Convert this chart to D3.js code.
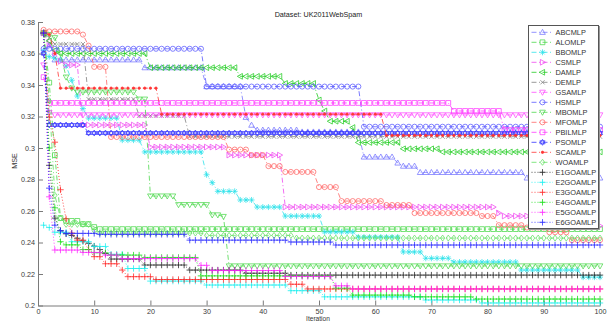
<!DOCTYPE html>
<html>
<head>
<meta charset="utf-8">
<script src="https://cdn.jsdelivr.net/npm/d3@7"></script>
<style>
  html, body { margin: 0; padding: 0; background: #fff; }
  svg { display: block; font-family: "Liberation Sans", Arial, sans-serif; }
</style>
</head>
<body>
<svg id="chart" width="607" height="322"></svg>
<script>
// ---- data -------------------------------------------------------------
const iterations = d3.range(1, 101);
const xTicks = [0, 10, 20, 30, 40, 50, 60, 70, 80, 90, 100];
const yTicks = [0.2, 0.22, 0.24, 0.26, 0.28, 0.3, 0.32, 0.34, 0.36, 0.38];
const yTickLabels = ["0.2", "0.22", "0.24", "0.26", "0.28", "0.3", "0.32", "0.34", "0.36", "0.38"];
const seriesNames = ["ABCMLP", "ALOMLP", "BBOMLP", "CSMLP", "DAMLP", "DEMLP", "GSAMLP", "HSMLP",
  "MBOMLP", "MFOMLP", "PBILMLP", "PSOMLP", "SCAMLP", "WOAMLP",
  "E1GOAMLP", "E2GOAMLP", "E3GOAMLP", "E4GOAMLP", "E5GOAMLP", "E6GOAMLP"];

// MSE per iteration (1..100)
const abcmlp = [
  .373,.365,.356,.356,.356,.356,.356,.356,.356,.356,
  .356,.356,.356,.356,.356,.356,.356,.356,.351,.351,
  .351,.351,.351,.351,.351,.351,.351,.351,.351,.339,
  .339,.339,.339,.339,.339,.339,.3195,.3145,.3114,.3114,
  .3114,.3114,.3114,.3114,.3114,.3114,.3102,.3102,.3102,.3102,
  .3102,.3102,.3102,.3102,.3102,.3102,.3102,.2943,.2943,.2943,
  .2943,.2943,.2943,.2905,.2885,.2885,.2885,.2845,.2845,.2845,
  .2845,.2845,.2845,.2845,.2845,.2845,.2845,.2845,.2845,.2845,
  .2845,.2845,.2845,.2845,.2845,.2845,.281,.281,.281,.281,
  .281,.281,.281,.281,.281,.281,.281,.281,.281,.281];
const alomlp = [
  .373,.3415,.2955,.2555,.2537,.2537,.2537,.2517,.2517,.2498,
  .2485,.2485,.2485,.2485,.2485,.2485,.2485,.2485,.2485,.2485,
  .2485,.2485,.2485,.2485,.2485,.2485,.2485,.2485,.2485,.2485,
  .2485,.2485,.2485,.2485,.2485,.2485,.2485,.2485,.2485,.2485,
  .2485,.2485,.2485,.2485,.2485,.2485,.2485,.2485,.2485,.2485,
  .2485,.2485,.2485,.2485,.2485,.2485,.2485,.2485,.2485,.2485,
  .2485,.2485,.2485,.2485,.2485,.2485,.2485,.2485,.2485,.2485,
  .2485,.2485,.2485,.2485,.2485,.2485,.2485,.2485,.2485,.2485,
  .2485,.2485,.2485,.2485,.2485,.2485,.2485,.2485,.2485,.2485,
  .2485,.2485,.2485,.2485,.2485,.2485,.2485,.2485,.2485,.2485];
const bbomlp = [
  .362,.358,.357,.356,.352,.343,.333,.325,.319,.319,
  .319,.319,.319,.319,.305,.305,.305,.305,.2975,.2975,
  .2975,.2975,.2975,.2975,.2975,.2975,.2975,.2975,.2975,.283,
  .278,.2725,.2725,.2725,.2725,.267,.267,.267,.2625,.2625,
  .2625,.2625,.2625,.2568,.2568,.2568,.2568,.2568,.2568,.2568,
  .2467,.2467,.2467,.2467,.2467,.2467,.2435,.2435,.2435,.2435,
  .2435,.2435,.2435,.2435,.234,.234,.234,.234,.230,.230,
  .230,.230,.230,.2276,.2276,.2276,.2276,.2276,.2276,.2276,
  .2276,.2276,.2276,.2276,.2276,.2225,.2225,.2225,.2225,.2225,
  .2225,.2225,.2225,.2225,.2225,.2225,.218,.218,.218,.218];
const csmlp = [
  .373,.366,.36,.355,.3527,.3527,.3527,.3146,.3146,.3146,
  .3146,.3146,.3146,.3146,.3146,.3146,.3146,.3146,.3146,.3006,
  .3006,.3006,.3006,.3006,.3006,.3006,.3006,.3006,.3006,.3006,
  .3006,.3006,.3006,.2955,.2955,.2955,.2955,.2955,.2955,.2955,
  .2955,.2955,.2955,.2625,.2625,.2625,.2625,.2625,.2625,.2625,
  .2625,.2625,.2625,.2625,.2625,.2625,.2625,.2625,.2625,.2625,
  .2625,.2625,.2625,.2625,.2625,.2625,.2625,.2625,.2625,.2625,
  .2625,.2625,.2625,.2625,.2625,.2625,.2625,.2625,.2625,.2625,
  .2625,.2587,.2568,.2568,.2568,.2568,.2568,.2568,.2568,.2568,
  .2568,.2568,.2505,.2505,.2505,.2505,.2505,.2505,.2505,.2505];
const damlp = [
  .373,.368,.362,.36,.36,.36,.36,.36,.36,.36,
  .36,.36,.36,.36,.36,.36,.36,.36,.36,.351,
  .351,.351,.351,.351,.351,.351,.351,.351,.351,.351,
  .351,.351,.351,.351,.351,.3455,.3455,.3455,.3455,.3455,
  .3455,.3455,.3455,.341,.341,.341,.341,.341,.341,.3305,
  .3235,.317,.317,.317,.317,.313,.3035,.3035,.3035,.3035,
  .3035,.3035,.3035,.3035,.2995,.2995,.2995,.2995,.2995,.2995,
  .2995,.2975,.2975,.2975,.2975,.2975,.2975,.2975,.2975,.2975,
  .2975,.2975,.2975,.2975,.2975,.2975,.2975,.2975,.2975,.2975,
  .2975,.2975,.2975,.2975,.2975,.2975,.2975,.2975,.2975,.2975];
const demlp = [
  .373,.37,.366,.366,.366,.366,.366,.366,.331,.331,
  .331,.331,.331,.331,.331,.331,.331,.3205,.3205,.3205,
  .3205,.3205,.3205,.3205,.3205,.3205,.3072,.3072,.3072,.3072,
  .3072,.3072,.3072,.3072,.3072,.3072,.3072,.3072,.3072,.3072,
  .3072,.3072,.3072,.3072,.3072,.3072,.3072,.3072,.3072,.3072,
  .3072,.3072,.3072,.3072,.3072,.3072,.3072,.3072,.3072,.3072,
  .3072,.3072,.3072,.3072,.3072,.3072,.3072,.3072,.3072,.3072,
  .3072,.3072,.3072,.3072,.3072,.3072,.3072,.3072,.3072,.3072,
  .3072,.3072,.3072,.3072,.3072,.3072,.3072,.3072,.3072,.3072,
  .3072,.3072,.3072,.3072,.3072,.3072,.3072,.3072,.3072,.3072];
const gsamlp = [
  .3527,.3225,.321,.321,.321,.321,.321,.321,.321,.321,
  .321,.321,.321,.321,.321,.321,.321,.321,.321,.321,
  .321,.321,.321,.321,.321,.321,.321,.321,.321,.321,
  .321,.321,.321,.321,.321,.321,.321,.321,.321,.321,
  .321,.321,.321,.321,.321,.321,.321,.321,.321,.321,
  .321,.321,.321,.321,.321,.321,.321,.321,.321,.321,
  .321,.321,.321,.321,.321,.321,.321,.321,.321,.321,
  .321,.321,.321,.321,.321,.321,.321,.321,.321,.321,
  .321,.321,.321,.321,.321,.321,.321,.321,.321,.321,
  .321,.321,.321,.321,.321,.321,.321,.321,.321,.321];
const hsmlp = [
  .363,.363,.363,.363,.363,.363,.363,.363,.363,.363,
  .363,.363,.363,.363,.363,.363,.363,.363,.363,.363,
  .363,.363,.363,.363,.363,.363,.363,.363,.363,.339,
  .339,.339,.339,.339,.339,.339,.339,.339,.339,.339,
  .339,.339,.339,.339,.339,.339,.339,.339,.339,.339,
  .339,.339,.339,.339,.339,.339,.339,.3135,.3135,.3135,
  .3135,.3135,.3135,.3135,.3135,.3135,.3135,.3135,.3135,.3135,
  .3135,.3135,.3135,.3135,.3135,.3135,.3135,.3135,.3135,.3135,
  .3135,.3135,.3135,.3135,.3135,.3135,.3135,.3135,.3135,.3135,
  .3135,.3135,.3135,.3135,.3135,.3135,.3135,.3135,.3135,.3135];
const mbomlp = [
  .373,.372,.37,.36,.345,.338,.3355,.3355,.3355,.3355,
  .3355,.3355,.3355,.3355,.3355,.3355,.3355,.331,.331,.2695,
  .2695,.2695,.2695,.2695,.264,.264,.264,.264,.264,.264,
  .2575,.2575,.2565,.2251,.2251,.2251,.2251,.2251,.2251,.2251,
  .2251,.2251,.2251,.2251,.2251,.2251,.2251,.2251,.2251,.2251,
  .2251,.2251,.2251,.2251,.2251,.2251,.2251,.2251,.2251,.2251,
  .2251,.2251,.2251,.2251,.2251,.2251,.2251,.2251,.2251,.2251,
  .2251,.2251,.2251,.2251,.2251,.2251,.2251,.2251,.2251,.2251,
  .2251,.2251,.2251,.2251,.2251,.2251,.2251,.2251,.2251,.2251,
  .2251,.2251,.2251,.2251,.2251,.2251,.2251,.2251,.2251,.2251];
const mfomlp = [
  .375,.374,.374,.374,.374,.374,.374,.372,.365,.3515,
  .3515,.3515,.307,.307,.307,.307,.307,.307,.307,.307,
  .307,.307,.307,.307,.307,.307,.307,.307,.307,.307,
  .307,.307,.307,.299,.299,.299,.299,.2955,.2955,.2955,
  .2885,.2885,.2885,.2848,.2848,.2848,.2848,.2848,.2848,.2752,
  .2752,.2752,.2752,.2663,.2663,.2663,.2663,.2663,.2663,.2663,
  .2663,.2638,.2638,.2638,.2638,.2638,.2587,.2587,.2587,.2587,
  .2587,.2587,.2587,.2587,.2587,.2587,.2587,.2587,.2568,.2568,
  .2568,.251,.251,.251,.251,.251,.2495,.2495,.2495,.2495,
  .2465,.2465,.2465,.2465,.2415,.2415,.2415,.2415,.2415,.2415];
const pbilmlp = [
  .345,.3286,.3286,.3286,.3286,.3286,.3286,.3286,.3286,.3286,
  .3286,.3286,.3286,.3286,.3286,.3286,.3286,.3286,.3286,.3286,
  .3286,.3286,.3286,.3286,.3286,.3286,.3286,.3286,.3286,.3286,
  .3286,.3286,.3286,.3286,.3286,.3286,.3286,.3286,.3286,.3286,
  .3286,.3286,.3286,.3286,.3286,.3286,.3286,.3286,.3286,.3286,
  .3286,.3286,.3286,.3286,.3286,.3286,.3286,.3286,.3286,.3286,
  .3286,.3286,.3286,.3286,.3286,.3286,.3286,.3286,.3286,.3286,
  .3286,.3286,.3286,.3235,.3235,.3235,.3235,.3235,.3235,.3235,
  .3235,.3235,.3114,.3114,.3114,.3114,.3114,.3114,.3114,.3114,
  .3114,.3114,.3114,.3114,.3114,.3114,.3114,.3114,.3114,.3114];
const psomlp = [
  .36,.3146,.3146,.3146,.3146,.3146,.3146,.3146,.3095,.3095,
  .3095,.3095,.3095,.3095,.3095,.3095,.3095,.3095,.3095,.3095,
  .3095,.3095,.3095,.3095,.3095,.3095,.3095,.3095,.3095,.3095,
  .3095,.3095,.3095,.3095,.3095,.3095,.3095,.3095,.3095,.3095,
  .3095,.3095,.3095,.3095,.3095,.3095,.3095,.3095,.3095,.3095,
  .3095,.3095,.3095,.3095,.3095,.3095,.3095,.3095,.3095,.3095,
  .3095,.3095,.3095,.3095,.3095,.3095,.3095,.3095,.3095,.3095,
  .3095,.3095,.3095,.3095,.3095,.3095,.3095,.3095,.3095,.3095,
  .3095,.3095,.3095,.3095,.3095,.3095,.3095,.3095,.3095,.3095,
  .3095,.3095,.3095,.3095,.3095,.3095,.3095,.3095,.3095,.3095];
const scamlp = [
  .373,.372,.36,.338,.338,.338,.338,.338,.338,.338,
  .338,.338,.338,.338,.338,.338,.338,.338,.338,.338,
  .338,.3215,.3215,.3215,.3215,.3215,.3215,.3215,.3215,.3215,
  .3215,.3215,.3215,.3215,.3215,.3215,.3215,.3215,.3215,.3215,
  .3215,.3215,.3215,.3215,.3215,.3215,.3215,.3215,.3215,.3215,
  .3215,.3215,.3215,.3215,.3215,.3215,.3215,.3215,.3215,.3215,
  .3215,.308,.308,.308,.308,.308,.308,.308,.308,.308,
  .308,.308,.308,.308,.308,.308,.308,.308,.308,.308,
  .308,.308,.308,.308,.308,.308,.308,.308,.308,.308,
  .308,.308,.308,.308,.308,.308,.308,.308,.308,.308];
const woamlp = [
  .373,.33,.27,.2555,.2515,.2515,.2515,.2515,.2515,.2475,
  .246,.246,.246,.246,.246,.246,.246,.246,.246,.246,
  .246,.246,.246,.246,.246,.246,.246,.246,.246,.2445,
  .2445,.2445,.2445,.2445,.2445,.2445,.2445,.2445,.2445,.2445,
  .2445,.2445,.2445,.2445,.2445,.2428,.2428,.2428,.2428,.2428,
  .2428,.2428,.2428,.2428,.2428,.2428,.2428,.2428,.2428,.2428,
  .2428,.2428,.2428,.2428,.2428,.2428,.2428,.2428,.2428,.2428,
  .2428,.2428,.2428,.2428,.2428,.2428,.2428,.2428,.2428,.2428,
  .2428,.2428,.2428,.2428,.2428,.2428,.2428,.2428,.2428,.2428,
  .2428,.2428,.2428,.2428,.2428,.2428,.2428,.2428,.2428,.2428];
const e1goamlp = [
  .373,.289,.2555,.2475,.2455,.2445,.2427,.241,.2395,.2377,
  .2355,.233,.2295,.2295,.2295,.2295,.2295,.2295,.2257,.2257,
  .2257,.2257,.2257,.2257,.2257,.2257,.2225,.2225,.2225,.2225,
  .2225,.2225,.2225,.2225,.2225,.2225,.2205,.2205,.2205,.2205,
  .2205,.2205,.2205,.2205,.2193,.2193,.2193,.2193,.2193,.2193,
  .2193,.2193,.2193,.2193,.2193,.2193,.2193,.2193,.2193,.2193,
  .2193,.2193,.2193,.2193,.2193,.2193,.2193,.2193,.2193,.2193,
  .2193,.2193,.2193,.2193,.2193,.2193,.2193,.2193,.2193,.2193,
  .2193,.2193,.2193,.2193,.2193,.2193,.2193,.2193,.2193,.2193,
  .2193,.2193,.2193,.2193,.2193,.2193,.2193,.2193,.2193,.2193];
const e2goamlp = [
  .251,.2495,.2465,.2465,.2465,.2405,.2405,.2405,.2405,.2375,
  .2375,.2375,.2325,.2325,.2325,.2235,.2235,.2235,.2235,.2155,
  .2155,.2155,.2155,.2155,.2155,.2155,.2155,.2155,.2155,.213,
  .213,.213,.213,.213,.213,.213,.213,.213,.213,.213,
  .213,.213,.213,.213,.2094,.2094,.2094,.2094,.2094,.2094,
  .2055,.2055,.2055,.2055,.2055,.2055,.2055,.2055,.2055,.2055,
  .2055,.2055,.2055,.2055,.2055,.2055,.2055,.2055,.2035,.2035,
  .2035,.2035,.2035,.2035,.2035,.2035,.2035,.2035,.2016,.2016,
  .2016,.2016,.2016,.2016,.2016,.2016,.2016,.2016,.2016,.2016,
  .2016,.2016,.2016,.2016,.2016,.2016,.2016,.2016,.2016,.2016];
const e3goamlp = [
  .373,.3197,.3037,.2735,.255,.246,.2415,.2415,.2355,.231,
  .231,.2265,.2265,.2265,.2225,.2183,.2183,.2183,.2183,.2183,
  .2165,.2165,.2165,.2165,.2165,.2165,.2165,.2165,.2165,.2165,
  .2165,.2165,.2165,.2165,.2165,.2165,.2165,.2165,.2165,.2165,
  .2165,.2165,.2165,.2165,.2135,.2135,.2135,.2105,.2105,.2105,
  .2105,.2105,.2105,.2105,.2105,.2105,.2105,.2105,.2105,.2105,
  .2105,.2105,.2105,.2105,.2105,.2105,.2105,.2105,.2105,.2105,
  .2105,.2105,.2105,.2105,.2105,.2105,.2105,.2105,.2105,.2105,
  .2105,.2105,.2105,.2105,.2105,.2105,.2105,.2105,.2105,.2105,
  .2105,.2105,.2105,.2105,.2105,.2105,.2105,.2105,.2105,.2105];
const e4goamlp = [
  .373,.30,.262,.2405,.2385,.2385,.2385,.2355,.2355,.2335,
  .2335,.2335,.232,.232,.232,.232,.232,.232,.2305,.2305,
  .2305,.2305,.2305,.2305,.2305,.2305,.2305,.2305,.2188,.2188,
  .2188,.2188,.2188,.2188,.2188,.2188,.2188,.2188,.2188,.2188,
  .2188,.2188,.2188,.2188,.2188,.2188,.2188,.2188,.2188,.2188,
  .2188,.2188,.211,.211,.211,.2066,.2066,.2066,.2066,.2066,
  .2066,.2066,.2066,.2066,.2066,.2066,.2055,.2055,.2055,.2055,
  .2055,.2055,.2055,.2055,.2055,.2055,.2055,.2041,.2041,.2041,
  .2041,.2041,.2041,.2041,.2041,.2041,.2041,.2041,.2041,.2041,
  .2041,.2041,.2041,.2041,.2041,.2041,.2041,.2041,.2041,.2041];
const e5goamlp = [
  .373,.269,.2352,.2352,.2352,.2352,.2352,.2337,.2337,.2337,
  .2337,.232,.232,.232,.2298,.2298,.2298,.2298,.2298,.2298,
  .2298,.2298,.2298,.2298,.2298,.2298,.2298,.2298,.2255,.2255,
  .2222,.2222,.2222,.2222,.2222,.2222,.2222,.2222,.2222,.2222,
  .2222,.2222,.2222,.2185,.2185,.2185,.2185,.2185,.2185,.2185,
  .2185,.2185,.2125,.2125,.2125,.2105,.2105,.2105,.2105,.2105,
  .2105,.2105,.2105,.2105,.2105,.2105,.2105,.2105,.2105,.2105,
  .2105,.2105,.2105,.2105,.2105,.2105,.2105,.2105,.2105,.2105,
  .2105,.2105,.2105,.2105,.2105,.2105,.2105,.2105,.2105,.2105,
  .2105,.2105,.2105,.2105,.2105,.2105,.2105,.2105,.2105,.2105];
const e6goamlp = [
  .373,.2745,.251,.2475,.2458,.2458,.2458,.2458,.2458,.2458,
  .2452,.2452,.2452,.2452,.2452,.2452,.2452,.2452,.2452,.2452,
  .2452,.2452,.2452,.2452,.2452,.2452,.2415,.2415,.2415,.2415,
  .2415,.2415,.2415,.2415,.2415,.2415,.2415,.2415,.2415,.2415,
  .2415,.2415,.2415,.2415,.2403,.2403,.2403,.2403,.2403,.2403,
  .2403,.2403,.2384,.2384,.2384,.2384,.2384,.2384,.2384,.2384,
  .2384,.2384,.2384,.2384,.2384,.2384,.2384,.2384,.2384,.2384,
  .2384,.2384,.2384,.2384,.2384,.2384,.2384,.2384,.2384,.2384,
  .2384,.2384,.2384,.2384,.2384,.2384,.2384,.2384,.2384,.2384,
  .2384,.2384,.2384,.2384,.2384,.2384,.2384,.2384,.2384,.2384];

const seriesValues = [abcmlp, alomlp, bbomlp, csmlp, damlp, demlp, gsamlp, hsmlp,
  mbomlp, mfomlp, pbilmlp, psomlp, scamlp, woamlp,
  e1goamlp, e2goamlp, e3goamlp, e4goamlp, e5goamlp, e6goamlp];

// ---- styles -----------------------------------------------------------
const seriesColors = ["#7676ff", "#4ad84a", "#2ee2ea", "#f048f0", "#22cc22", "#808080", "#ff4cff", "#5858ff",
  "#4cd84c", "#ff6464", "#ff38ff", "#3434ff", "#ff3434", "#62e062",
  "#202020", "#10eeee", "#ff2020", "#10dd10", "#ff20ff", "#2020ff"];
const seriesMarkers = ["^", "s", "*", ">", "<", "x", "v", "o", "v", "o", "s", "h", ".", "d",
  "+", "+", "+", "+", "+", "+"];
const DASHDOT = "5,2.5,1,2.5";
const DOTTED = "1,2";

seriesValues.forEach((v, k) => {
  if (v.length !== iterations.length) throw new Error(seriesNames[k] + " has " + v.length + " values");
});

function markerPath(type, s) {
  switch (type) {
    case "^": return `M0,${-s}L${s * 0.95},${s * 0.7}L${-s * 0.95},${s * 0.7}Z`;
    case "v": return `M0,${s}L${s * 0.95},${-s * 0.7}L${-s * 0.95},${-s * 0.7}Z`;
    case "<": return `M${-s},0L${s * 0.7},${-s * 0.95}L${s * 0.7},${s * 0.95}Z`;
    case ">": return `M${s},0L${-s * 0.7},${-s * 0.95}L${-s * 0.7},${s * 0.95}Z`;
    case "s": { const h = s * 0.8; return `M${-h},${-h}H${h}V${h}H${-h}Z`; }
    case "d": return `M0,${-s}L${s * 0.72},0L0,${s}L${-s * 0.72},0Z`;
    case "o": { const r = s * 0.85; return `M${r},0A${r},${r},0,1,1,${-r},0A${r},${r},0,1,1,${r},0`; }
    case "+": return `M${-s},0H${s}M0,${-s}V${s}`;
    case "x": { const h = s * 0.7; return `M${-h},${-h}L${h},${h}M${h},${-h}L${-h},${h}`; }
    case "*": { const h = s * 0.7; return `M${-s},0H${s}M0,${-s}V${s}M${-h},${-h}L${h},${h}M${h},${-h}L${-h},${h}`; }
    case "h": {
      const a = s * 0.866, b = s * 0.5;
      return `M0,${-s}L${a},${b}L${-a},${b}ZM0,${s}L${a},${-b}L${-a},${-b}Z`;
    }
    case ".": { const r = 1.2; return `M${r},0A${r},${r},0,1,1,${-r},0A${r},${r},0,1,1,${r},0`; }
  }
  return "";
}

// ---- layout -----------------------------------------------------------
const svg = d3.select("#chart");
const x = d3.scaleLinear().domain([0, 100]).range([38, 600]);
const y = d3.scaleLinear().domain([0.2, 0.38]).range([305.5, 22]);
const FONT = "'Liberation Sans', Arial, sans-serif";

svg.append("rect").attr("width", 607).attr("height", 322).attr("fill", "#fff");

// axes
const gx = svg.append("g")
  .attr("transform", "translate(0,305.5)")
  .call(d3.axisBottom(x).tickValues(xTicks).tickFormat(d3.format("d"))
    .tickSizeInner(-5).tickSizeOuter(0).tickPadding(3));
const gy = svg.append("g")
  .attr("transform", "translate(38,0)")
  .call(d3.axisLeft(y).tickValues(yTicks).tickFormat((d, i) => yTickLabels[i])
    .tickSizeInner(-5).tickSizeOuter(0).tickPadding(3));
[gx, gy].forEach(g => {
  g.attr("font-family", FONT).attr("font-size", 7.2);
  g.select(".domain").attr("stroke", "#7a7a7a");
  g.selectAll(".tick line").attr("stroke", "#7a7a7a");
  g.selectAll(".tick text").attr("fill", "#3a3a3a");
});

// series
const line = d3.line().x((d, i) => x(iterations[i])).y(d => y(d));
const plot = svg.append("g");
seriesValues.forEach((vals, k) => {
  const g = plot.append("g");
  const color = seriesColors[k];
  g.append("path")
    .attr("d", line(vals))
    .attr("fill", "none")
    .attr("stroke", color)
    .attr("stroke-width", 0.8)
    .attr("stroke-dasharray", k < 14 ? DASHDOT : DOTTED);
  const mk = seriesMarkers[k];
  const size = mk === "+" ? 3.2 : 3;
  g.selectAll("path.m")
    .data(vals)
    .join("path")
    .attr("class", "m")
    .attr("transform", (d, i) => `translate(${x(iterations[i])},${y(d)})`)
    .attr("d", markerPath(mk, size))
    .attr("fill", mk === "." ? color : "none")
    .attr("stroke", color)
    .attr("stroke-width", 0.75);
});

// title and axis labels
svg.append("text")
  .attr("x", 318.5).attr("y", 16.5)
  .attr("text-anchor", "middle")
  .attr("font-family", FONT).attr("font-size", 7.2).attr("fill", "#222")
  .text("Dataset: UK2011WebSpam");
svg.append("text")
  .attr("x", 318).attr("y", 321.3)
  .attr("text-anchor", "middle")
  .attr("font-family", FONT).attr("font-size", 6.6).attr("fill", "#333")
  .text("Iteration");
svg.append("text")
  .attr("transform", "translate(16.5,161) rotate(-90)")
  .attr("text-anchor", "middle")
  .attr("font-family", FONT).attr("font-size", 7.2).attr("fill", "#333")
  .text("MSE");

// legend
const legend = svg.append("g");
legend.append("rect")
  .attr("x", 528.5).attr("y", 25.5).attr("width", 70).attr("height", 203)
  .attr("fill", "#fff").attr("stroke", "#555").attr("stroke-width", 1);
legend.append("path")
  .attr("d", "M599.5,26V229.5H529")
  .attr("fill", "none").attr("stroke", "#999").attr("stroke-width", 1);
seriesNames.forEach((name, k) => {
  const cy = 32.3 + k * 10;
  const color = seriesColors[k];
  const row = legend.append("g");
  row.append("path")
    .attr("d", `M531.5,${cy}H553`)
    .attr("stroke", color).attr("stroke-width", 0.8)
    .attr("stroke-dasharray", k < 14 ? DASHDOT : DOTTED);
  const mk = seriesMarkers[k];
  row.append("path")
    .attr("transform", `translate(542.5,${cy})`)
    .attr("d", markerPath(mk, mk === "+" ? 3.2 : 3))
    .attr("fill", mk === "." ? color : "none")
    .attr("stroke", color).attr("stroke-width", 0.75);
  row.append("text")
    .attr("x", 555.5).attr("y", cy + 2.6)
    .attr("font-family", FONT).attr("font-size", 7.4).attr("fill", "#333")
    .text(name);
});
</script>
</body>
</html>
